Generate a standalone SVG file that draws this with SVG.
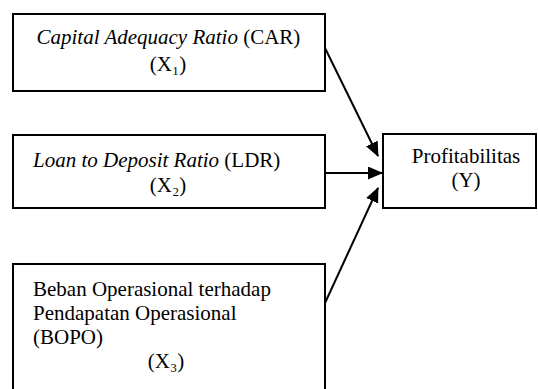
<svg xmlns="http://www.w3.org/2000/svg" width="538" height="389" viewBox="0 0 538 389">
  <style>
    .box { fill: #ffffff; stroke: #000000; stroke-width: 2; }
    .t { font-family: "Liberation Serif", "DejaVu Serif", serif; font-size: 21px; fill: #000000; }
    .i { font-style: italic; }
    .c { text-anchor: middle; }
    .conn { stroke: #000000; stroke-width: 2; fill: none; }
  </style>
  <defs>
    <marker id="ah" markerUnits="userSpaceOnUse" markerWidth="16" markerHeight="14" refX="14" refY="6.5" orient="auto">
      <path d="M0,0 L15,6.5 L0,13 z" fill="#000000"/>
    </marker>
  </defs>
  <rect width="538" height="389" fill="#ffffff"/>
  <g id="node-car">
    <rect class="box" x="13" y="14" width="312" height="77"/>
    <text class="t" x="36.5" y="44"><tspan class="i">Capital Adequacy Ratio</tspan> (CAR)</text>
    <text class="t c" x="168" y="71">(X₁)</text>
  </g>
  <g id="node-ldr">
    <rect class="box" x="13" y="135" width="312" height="73"/>
    <text class="t" x="33" y="167"><tspan class="i">Loan to Deposit Ratio</tspan> (LDR)</text>
    <text class="t c" x="168" y="192">(X₂)</text>
  </g>
  <g id="node-bopo">
    <rect class="box" x="13" y="264" width="312" height="140"/>
    <text class="t" x="33" y="296">Beban Operasional terhadap</text>
    <text class="t" x="33" y="320">Pendapatan Operasional</text>
    <text class="t" x="33" y="344">(BOPO)</text>
    <text class="t c" x="166" y="368">(X₃)</text>
  </g>
  <g id="node-y">
    <rect class="box" x="383" y="134" width="153" height="74"/>
    <text class="t c" x="466" y="163">Profitabilitas</text>
    <text class="t c" x="466" y="187">(Y)</text>
  </g>
  <g id="connectors">
    <line class="conn" x1="325" y1="48" x2="378" y2="156" marker-end="url(#ah)"/>
    <line class="conn" x1="325" y1="173" x2="382" y2="173" marker-end="url(#ah)"/>
    <line class="conn" x1="325" y1="303" x2="378" y2="188" marker-end="url(#ah)"/>
  </g>
</svg>
